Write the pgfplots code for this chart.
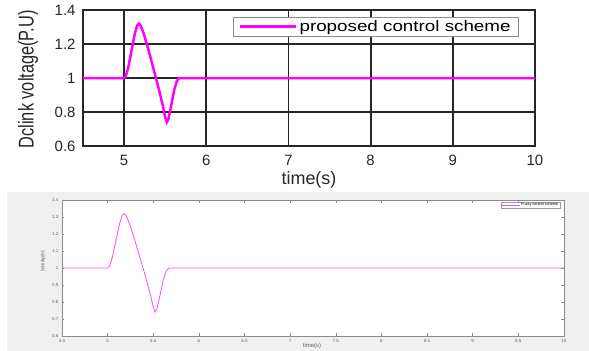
\documentclass[border=0pt]{standalone}
\usepackage{pgfplots}
\pgfplotsset{compat=1.18}
\usepackage{pgfplotstable}
\usepackage{fontspec}
\setmainfont{Liberation Sans}
\usepackage{graphicx}
\definecolor{mag}{RGB}{255,0,255}
\definecolor{magl}{RGB}{255,70,255}

\pgfplotstableread{
t v
4.5 1
5.0 1
5.02 1.01
5.05 1.06
5.09 1.16
5.13 1.26
5.16 1.31
5.18 1.32
5.20 1.31
5.24 1.26
5.30 1.16
5.36 1.05
5.42 0.94
5.47 0.84
5.50 0.77
5.52 0.74
5.54 0.76
5.57 0.83
5.61 0.93
5.64 0.98
5.67 1.0
10 1
}\datatable

\begin{document}
\begin{tikzpicture}
\useasboundingbox (0bp,0bp) rectangle (589bp,351bp);
\fill[black!6] (7bp,0bp) rectangle (589bp,159bp);
% top panel
\begin{axis}[
  at={(83bp,205bp)}, anchor=south west,
  width=452bp, height=136bp, scale only axis,
  xmin=4.5, xmax=10, ymin=0.6, ymax=1.4,
  xtick={5,6,7,8,9,10},
  ytick={0.6,0.8,1,1.2,1.4},
  yticklabels={0.6,0.8,1,1.2,1.4},
  /pgf/number format/assume math mode=true,
  grid=major,
  grid style={black!85, line width=1.8bp},
  axis line style={black!85, line width=1.8bp},
  major tick length=0pt,
  tick label style={font=\fontsize{15}{15}\selectfont, black!85},
  xticklabel style={yshift=-6bp},
  yticklabel style={xshift=-4bp},
  xlabel={\fontsize{18}{18}\selectfont time(s)},
  xlabel style={at={(axis description cs:0.5,0)}, anchor=north, yshift=-25bp, inner sep=0pt, black!85},
  ylabel={\resizebox{138bp}{15.5bp}{\fontsize{20}{20}\selectfont Dclink voltage(P.U)}},
  ylabel style={at={(axis description cs:-0.1217,0.49)}, anchor=center, inner sep=0pt, black!85},
  legend style={at={(axis description cs:1,1)}, anchor=north east, xshift=-16bp, yshift=-7bp,
     draw=black!45, line width=0.8bp, inner xsep=6bp, inner ysep=1bp,
     nodes={inner sep=2bp}},
  legend cell align=left,
  legend image code/.code={\draw[#1, line width=2.5bp] (0bp,0bp) -- (56bp,0bp);},
]
\addplot[color=mag, line width=2.5bp] table[x=t, y=v] {\datatable};
\addlegendentry{\resizebox{211bp}{11bp}{\fontsize{15}{15}\selectfont proposed control scheme}}
\end{axis}
% bottom panel
\begin{axis}[
  at={(62bp,15bp)}, anchor=south west,
  width=502bp, height=136bp, scale only axis,
  xmin=4.5, xmax=10, ymin=0.6, ymax=1.4,
  xtick={4.5,5,5.5,6,6.5,7,7.5,8,8.5,9,9.5,10},
  xticklabels={4.5,5,5.5,6,6.5,7,7.5,8,8.5,9,9.5,10},
  ytick={0.6,0.7,0.8,0.9,1,1.1,1.2,1.3,1.4},
  yticklabels={0.6,0.7,0.8,0.9,1,1.1,1.2,1.3,1.4},
  /pgf/number format/assume math mode=true,
  axis background/.style={fill=white},
  axis line style={black!45, line width=0.6bp},
  tick style={black!45, line width=0.5bp},
  major tick length=2.5bp,
  tick label style={font=\fontsize{4.5}{5}\selectfont, black!60},
  xlabel={\fontsize{6}{6}\selectfont time(s)},
  xlabel style={at={(axis description cs:0.498,0)}, anchor=center, yshift=-10bp, inner sep=0pt, black!60},
  ylabel={\resizebox{20bp}{3.5bp}{\fontsize{6}{6}\selectfont Dclink voltage(P.U)}},
  ylabel style={at={(axis description cs:-0.0378,0.55)}, anchor=center, inner sep=0pt, black!70},
  legend style={at={(axis description cs:1,1)}, anchor=north east, xshift=-4bp, yshift=-2bp,
     draw=black!40, line width=0.4bp, inner xsep=1bp, inner ysep=0.3bp,
     nodes={inner sep=0.6bp}, font=\fontsize{3.8}{4}\selectfont},
  legend image code/.code={\draw[#1] (0bp,0bp) -- (18bp,0bp);},
]
\addplot[color=magl, line width=0.8bp] table[x=t, y=v] {\datatable};
\addlegendentry{Fuzzy control scheme}
\end{axis}
\end{tikzpicture}
\end{document}
